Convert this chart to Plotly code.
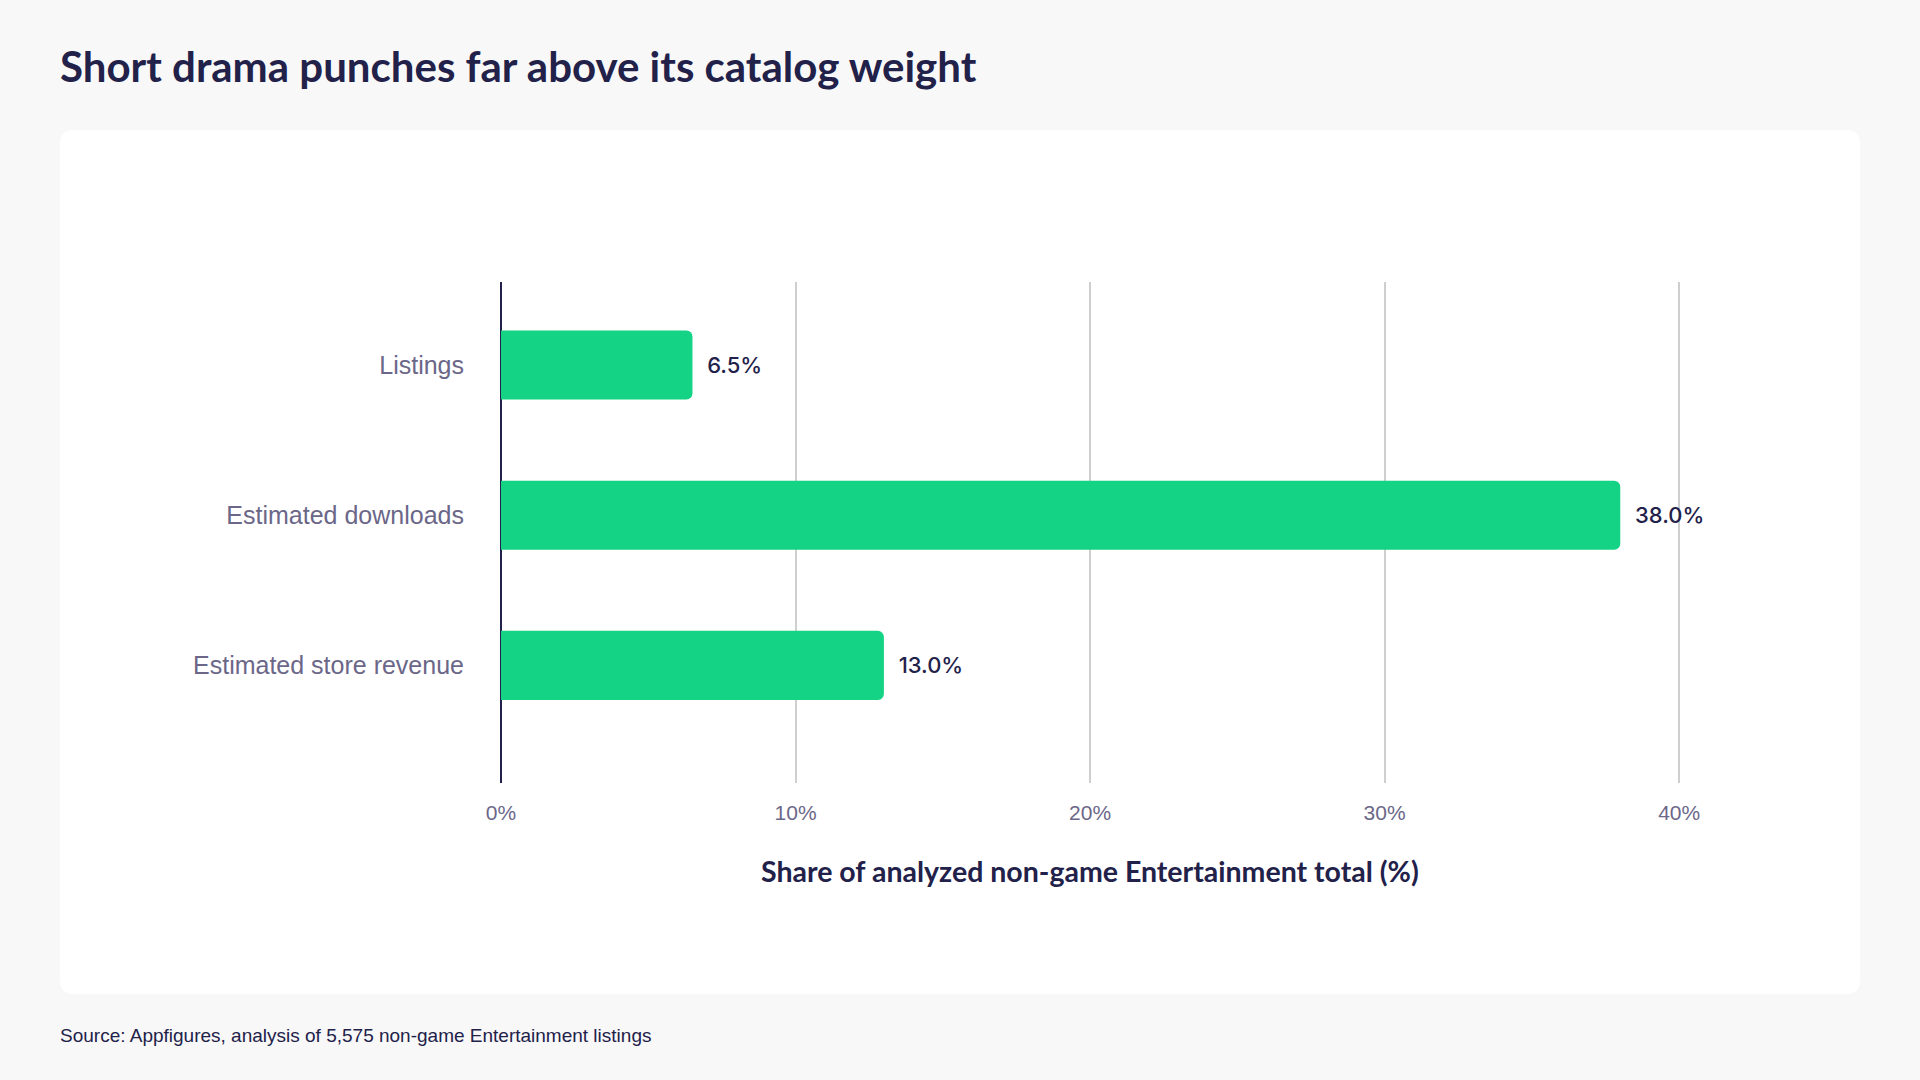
import plotly.graph_objects as go

categories = ["Listings", "Estimated downloads", "Estimated store revenue"]
shares = [6.5, 38.0, 13.0]
x_ticks = [0, 10, 20, 30, 40]
x_tick_labels = ["0%", "10%", "20%", "30%", "40%"]

W, H = 1920, 1080
# plot area in pixels
L, R, T, B = 501, 1797, 282, 783
pw, ph = R - L, B - T


def px(x):
    return (x - L) / pw


def py(y):
    return (B - y) / ph


NAVY = "#22214a"
MUTED = "#6b6788"
GREEN = "#14d384"

fig = go.Figure()

fig.add_trace(go.Bar(
    y=categories,
    x=shares,
    orientation="h",
    width=0.46,
    marker=dict(color=GREEN, cornerradius=6, line=dict(width=0)),
    text=[f"{v:.1f}%" for v in shares],
    texttemplate="\u00a0\u00a0%{text}",
    textposition="outside",
    textfont=dict(family="Inter, Liberation Sans, sans-serif", size=22, color=NAVY, weight=500),
    cliponaxis=False,
    hoverinfo="skip",
))

# white rounded card behind the chart
cx0, cx1, cy0, cy1, rad = px(60), px(1860), py(994), py(130), 14
rx, ry = rad / pw, rad / ph
card = (f"M {cx0 + rx},{cy1} L {cx1 - rx},{cy1} Q {cx1},{cy1} {cx1},{cy1 - ry} "
        f"L {cx1},{cy0 + ry} Q {cx1},{cy0} {cx1 - rx},{cy0} "
        f"L {cx0 + rx},{cy0} Q {cx0},{cy0} {cx0},{cy0 + ry} "
        f"L {cx0},{cy1 - ry} Q {cx0},{cy1} {cx0 + rx},{cy1} Z")
fig.add_shape(type="path", path=card, xref="paper", yref="paper",
              fillcolor="white", line=dict(width=0), layer="below")

fig.add_annotation(
    text="Share of analyzed non-game Entertainment total (%)",
    xref="x", yref="paper", x=20, y=py(871),
    showarrow=False, xanchor="center", yanchor="middle",
    font=dict(family="Lato, sans-serif", size=28.5, color=NAVY, weight="bold"),
)
fig.add_annotation(
    text="Source: Appfigures, analysis of 5,575 non-game Entertainment listings",
    xref="paper", yref="paper", x=px(58), y=py(1035),
    showarrow=False, xanchor="left", yanchor="middle",
    font=dict(family="Liberation Sans, Arial, sans-serif", size=19, color=NAVY),
)

fig.update_layout(
    width=W, height=H,
    margin=dict(l=L, r=W - R, t=T, b=H - B, pad=0),
    paper_bgcolor="#f8f8f8",
    plot_bgcolor="rgba(0,0,0,0)",
    showlegend=False,
    title=dict(
        text="Short drama punches far above its catalog weight",
        x=60 / W, xanchor="left", xref="container",
        y=1 - 67 / H, yanchor="middle", yref="container",
        font=dict(family="Lato, sans-serif", size=42, color=NAVY, weight="bold"),
    ),
    xaxis=dict(
        range=[0, 44],
        tickvals=x_ticks, ticktext=x_tick_labels,
        showgrid=True, gridcolor="#cfcfcf", gridwidth=1.5,
        zeroline=True, zerolinecolor=NAVY, zerolinewidth=2,
        showline=False, ticks="",
        ticklabelstandoff=15,
        tickfont=dict(family="Liberation Sans, Arial, sans-serif", size=21, color=MUTED),
        fixedrange=True,
    ),
    yaxis=dict(
        categoryorder="array", categoryarray=categories,
        range=[2.783, -0.553],
        showgrid=False, zeroline=False, showline=False, ticks="",
        ticklabelstandoff=36,
        tickfont=dict(family="Liberation Sans, Arial, sans-serif", size=25, color=MUTED),
        fixedrange=True,
    ),
)

fig.write_html("out.html", config={"displayModeBar": False},
               post_script="document.body.style.margin='0';")
